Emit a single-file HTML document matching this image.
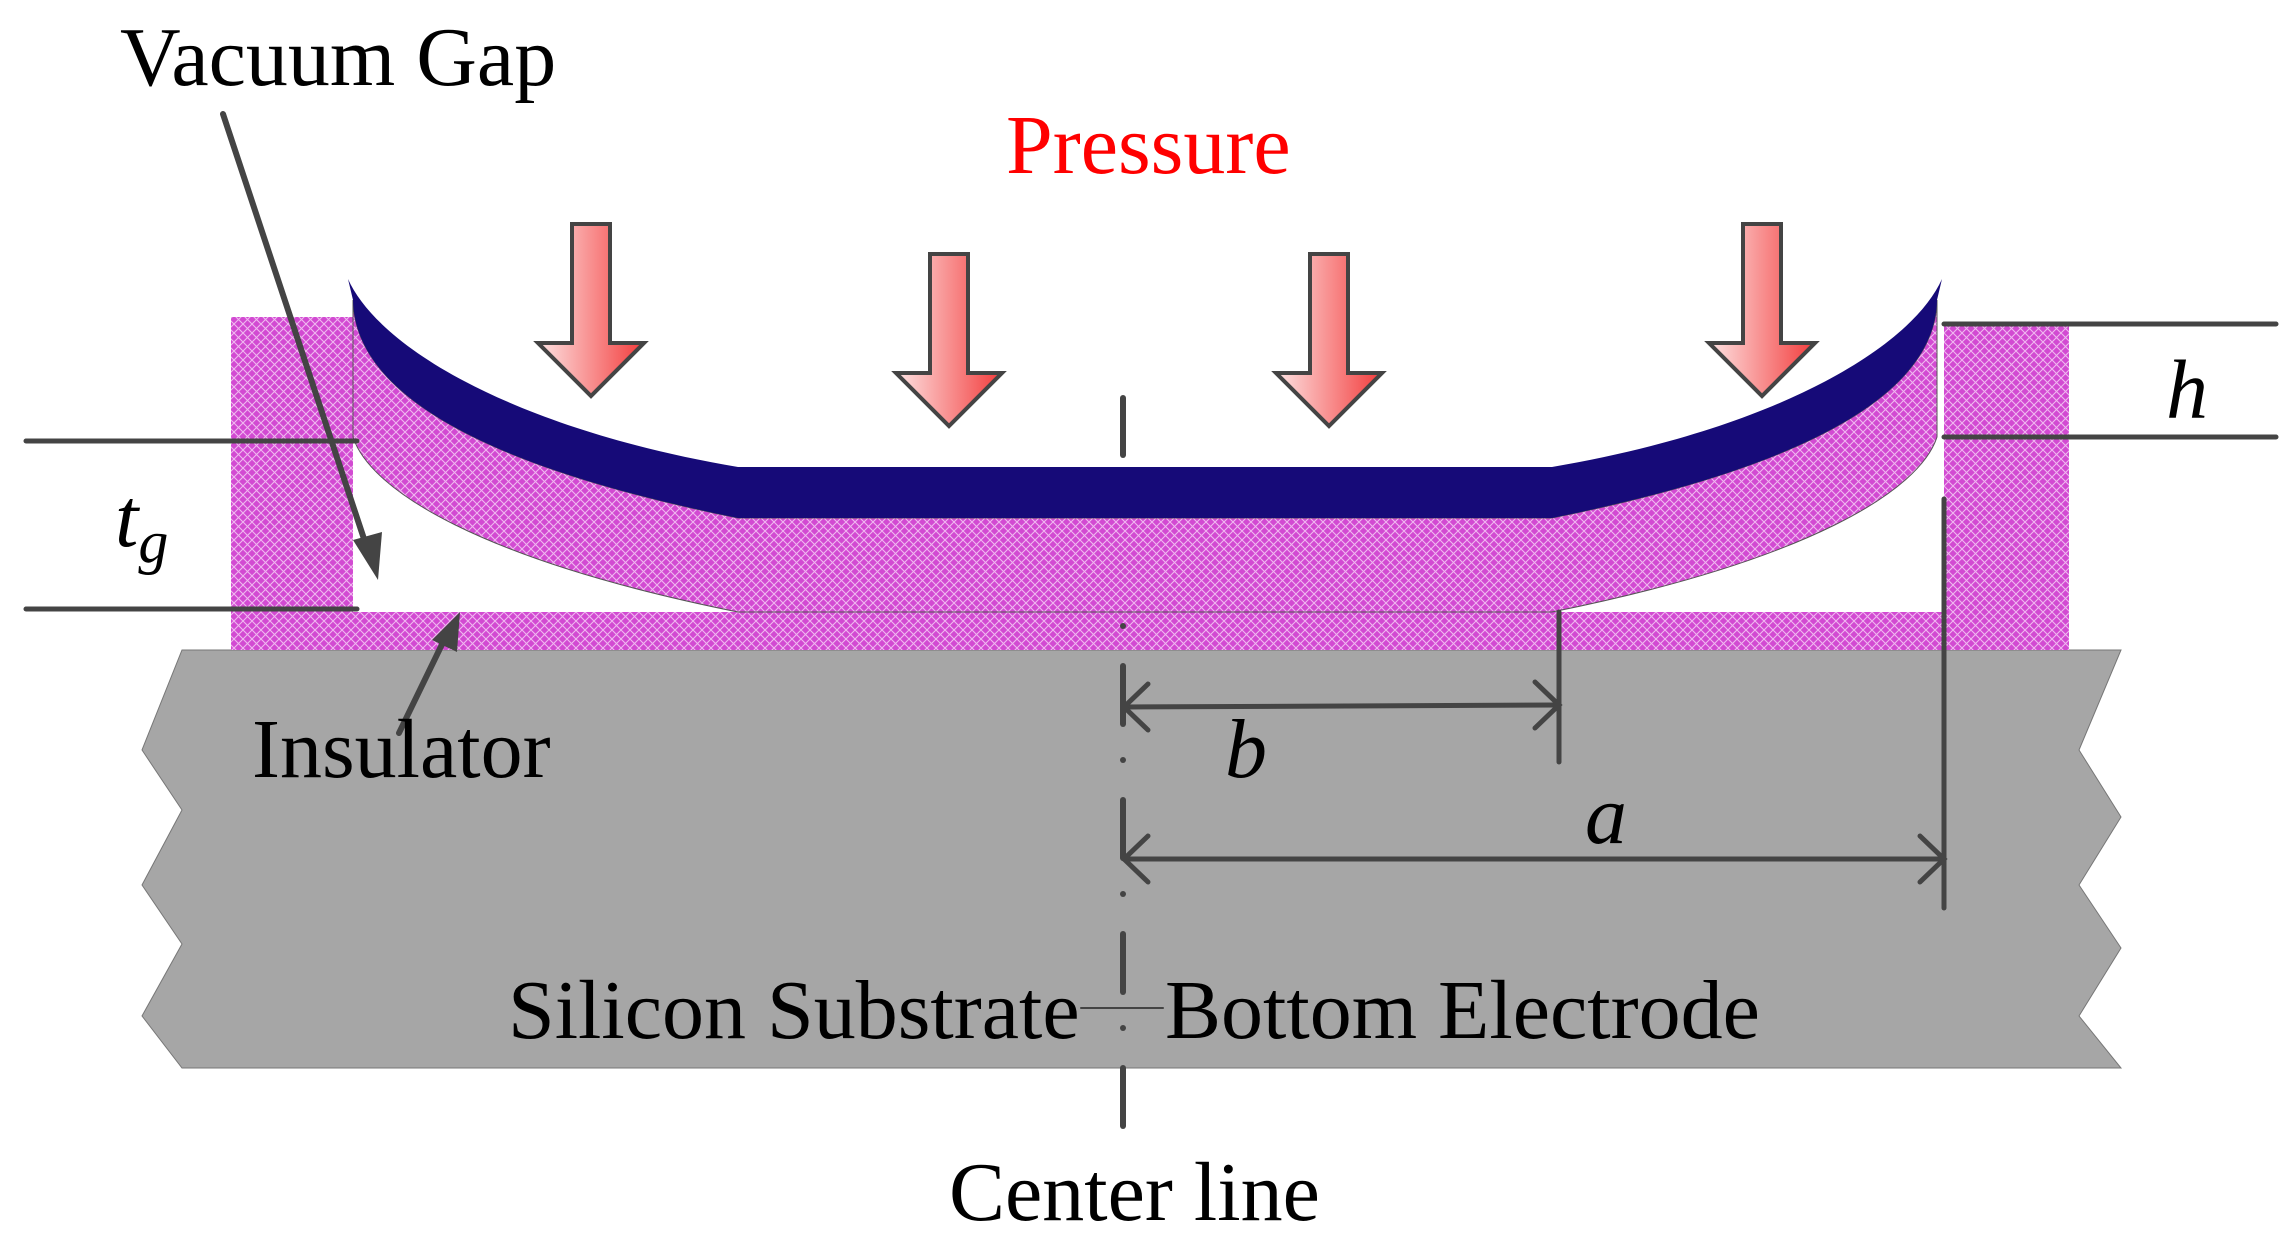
<!DOCTYPE html>
<html><head><meta charset="utf-8"><style>
html,body{margin:0;padding:0;background:#fff;}
svg{display:block;}
text{font-family:"Liberation Serif",serif;}
</style></head><body>
<svg width="2289" height="1241" viewBox="0 0 2289 1241" xmlns="http://www.w3.org/2000/svg">
<defs>
<pattern id="hatch" width="9" height="9" patternUnits="userSpaceOnUse">
<rect width="9" height="9" fill="#d24ad2"/>
<path d="M0,0 L9,9 M9,0 L0,9" stroke="#f0b8f0" stroke-width="1.1"/>
</pattern>
<linearGradient id="pg" x1="0" x2="1" y1="0" y2="0">
<stop offset="0" stop-color="#fde3e3"/><stop offset="1" stop-color="#f33c3c"/>
</linearGradient>
</defs>

<!-- substrate -->
<polygon points="182,650 2121,650 2079,750 2121,817 2079,885 2121,948 2079,1016 2121,1068 182,1068 142,1016 182,944 142,885 182,810 142,750" fill="#a6a6a6" stroke="#777" stroke-width="1"/>

<!-- insulator + pillars -->
<rect x="231" y="612" width="1838" height="38" fill="url(#hatch)"/>
<rect x="231" y="317" width="122" height="333" fill="url(#hatch)"/>
<rect x="1944" y="326" width="125" height="324" fill="url(#hatch)"/>

<!-- membrane magenta -->
<path d="M353,300 C355,400 500,470 738,518 L1552,518 C1790,470 1935,400 1937,300 L1937,437 C1920,490 1810,560 1552,612 L738,612 C480,560 370,490 353,437 Z" fill="url(#hatch)" stroke="#555" stroke-width="1"/>
<!-- membrane dark -->
<path d="M348,279 C380,350 520,430 738,467 L1552,467 C1770,430 1910,350 1942,279 L1937,300 C1935,400 1790,470 1552,518 L738,518 C500,470 355,400 353,300 Z" fill="#160a78"/>

<!-- center line -->
<g stroke="#444" stroke-width="6" stroke-linecap="round">
<line x1="1123" y1="398" x2="1123" y2="455"/>
<line x1="1123" y1="666" x2="1123" y2="724"/>
<line x1="1123" y1="800" x2="1123" y2="858"/>
<line x1="1123" y1="934" x2="1123" y2="992"/>
<line x1="1123" y1="1068" x2="1123" y2="1126"/>
</g>
<g fill="#444"><circle cx="1123" cy="626" r="3"/><circle cx="1123" cy="760" r="3"/><circle cx="1123" cy="894" r="3"/><circle cx="1123" cy="1028" r="3"/></g>

<!-- dimension lines -->
<g stroke="#444" stroke-width="5" fill="none" stroke-linecap="round">
<line x1="26" y1="441" x2="357" y2="441"/>
<line x1="26" y1="609" x2="357" y2="609"/>
<line x1="1944" y1="324" x2="2276" y2="324"/>
<line x1="1944" y1="437" x2="2276" y2="437"/>
<line x1="1559" y1="612" x2="1559" y2="762"/>
<line x1="1944" y1="499" x2="1944" y2="908"/>
<line x1="1124" y1="707" x2="1559" y2="705"/>
<polyline points="1148,684 1124,707 1148,730"/>
<polyline points="1535,682 1559,705 1535,728"/>
<line x1="1124" y1="859" x2="1944" y2="859"/>
<polyline points="1148,836 1124,859 1148,882"/>
<polyline points="1920,836 1944,859 1920,882"/>
<line x1="223" y1="114" x2="371" y2="560" stroke-width="6"/>
<line x1="399" y1="733" x2="448" y2="632" stroke-width="6"/>
<line x1="1081" y1="1008" x2="1163" y2="1008" stroke-width="2"/>
</g>
<polygon points="378,580 353,540 382,532" fill="#444"/>
<polygon points="460,612 432,640 457,652" fill="#444"/>

<!-- pressure arrows -->
<g stroke="#444" stroke-width="4" fill="url(#pg)" stroke-linejoin="miter">
<polygon points="572,224 610,224 610,343 644,343 591,396 538,343 572,343"/>
<polygon points="930,254 968,254 968,373 1002,373 949,426 896,373 930,373"/>
<polygon points="1310,254 1348,254 1348,373 1382,373 1329,426 1276,373 1310,373"/>
<polygon points="1743,224 1781,224 1781,343 1815,343 1762,396 1709,343 1743,343"/>
</g>

<!-- labels -->
<g font-size="84" fill="#000">
<text x="120" y="85">Vacuum Gap</text>
<text x="1006" y="173" fill="#f00">Pressure</text>
<text x="252" y="777">Insulator</text>
<text x="508" y="1038">Silicon Substrate</text>
<text x="1165" y="1038">Bottom Electrode</text>
<text x="949" y="1220">Center line</text>
<text x="115" y="546" font-style="italic">t<tspan font-size="60" dy="16">g</tspan></text>
<text x="2166" y="418" font-style="italic">h</text>
<text x="1225" y="777" font-style="italic">b</text>
<text x="1585" y="843" font-style="italic">a</text>
</g>
</svg>
</body></html>
